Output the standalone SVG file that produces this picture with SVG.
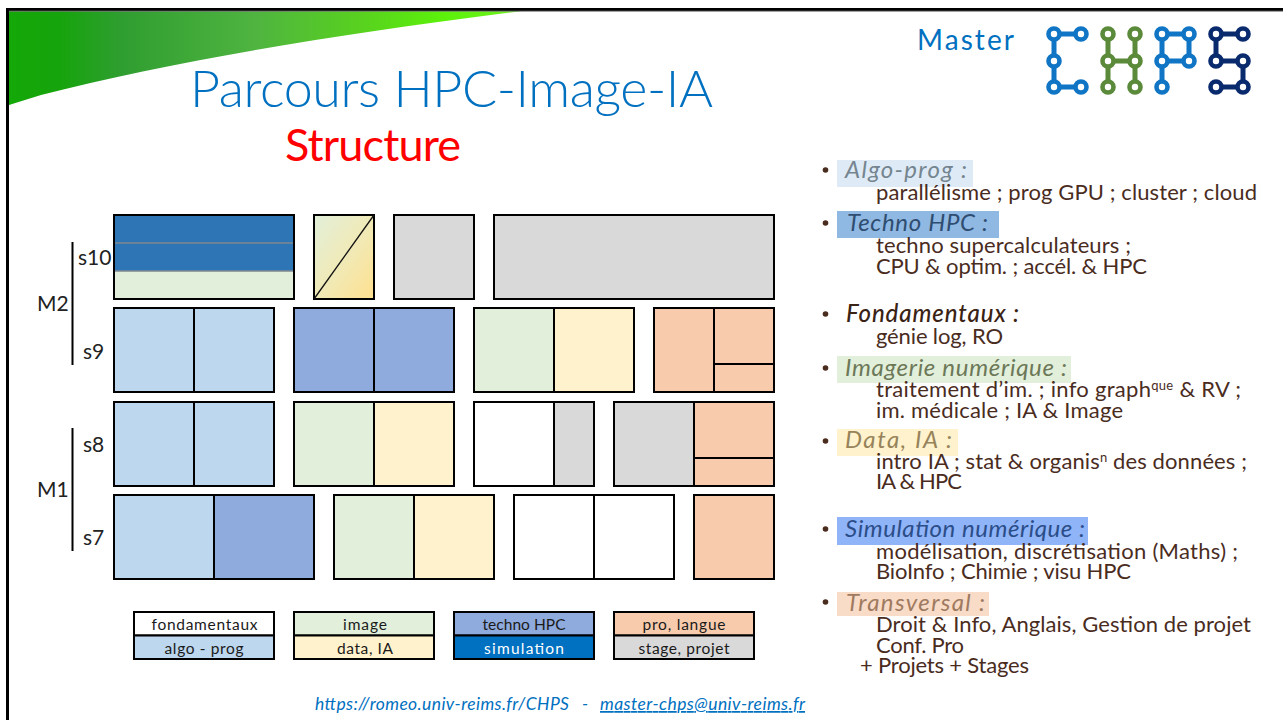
<svg xmlns="http://www.w3.org/2000/svg" width="1283" height="720" viewBox="0 0 1283 720">
<style>
.b{stroke:#000;stroke-width:2}
.l{stroke:#000;stroke-width:2;fill:none}
.lb{fill:#bdd7ee}.tc{fill:#8faadc}.gr{fill:#e2efda}.ye{fill:#fff2cc}.or{fill:#f8cbad}.gy{fill:#d9d9d9}.wh{fill:#fff}.si{fill:#0070c0}
text{font-family:"Lato","Liberation Sans",sans-serif}
.sem{font-size:21px;fill:#222}
.leg{font-size:15.500px;fill:#1a1a1a;text-anchor:middle}
.body{font-size:22px;fill:#4a2c1e;transform:translateY(.8px)}
.hd{font-size:24px;font-style:italic;font-weight:400}
.bu{fill:#4a2c1e}
.foot{font-size:17.500px;font-style:italic;fill:#0070c0}
.node{fill:#fff;stroke-width:4.600}
.wire{fill:none;stroke-width:5}
</style>
<defs>
<linearGradient id="sw" x1="9" y1="0" x2="522" y2="0" gradientUnits="userSpaceOnUse">
<stop offset="0" stop-color="#14a808"/><stop offset=".1" stop-color="#16a40c"/><stop offset=".22" stop-color="#2f9e30"/><stop offset=".48" stop-color="#4fb440"/><stop offset=".68" stop-color="#58d020"/><stop offset=".85" stop-color="#5cf20a"/><stop offset="1" stop-color="#70f020"/>
</linearGradient>
<linearGradient id="dg" x1="0" y1="0" x2="1" y2="1">
<stop offset="0" stop-color="#e2efda"/><stop offset=".5" stop-color="#f0eab8"/><stop offset="1" stop-color="#ffe08f"/>
</linearGradient>
</defs>
<rect width="1283" height="720" fill="#fff"/>
<g id="slide-frame">
<path d="M9 11H522C330 35 170 62 41 95L9 105Z" fill="url(#sw)"/>
<path d="M7.500 720V9.500H1283" fill="none" stroke="#000" stroke-width="3"/>
<path d="M9 11.200H1283" stroke="#777" stroke-width="1"/>
</g>
<g id="title">
<text x="190" y="107" font-size="52" font-weight="300" fill="#0070c0" textLength="523">Parcours HPC-Image-IA</text>
<text x="285" y="161" font-size="45" fill="#ff0000" textLength="176">Structure</text>
<text x="917" y="50" font-size="28" fill="#0070c0" textLength="97">Master</text>
</g>
<g id="logo">
<g stroke="#0f75c4"><path class="wire" d="M1081 34H1054V87H1081"/>
<circle class="node" cx="1054" cy="34" r="5.500"/><circle class="node" cx="1081" cy="34" r="5.500"/><circle class="node" cx="1054" cy="61" r="5.500"/><circle class="node" cx="1054" cy="87" r="5.500"/><circle class="node" cx="1081" cy="87" r="5.500"/></g>
<g stroke="#5a8a3a"><path class="wire" d="M1108 34V87M1135 34V87M1108 61H1135"/>
<circle class="node" cx="1108" cy="34" r="5.500"/><circle class="node" cx="1135" cy="34" r="5.500"/><circle class="node" cx="1108" cy="61" r="5.500"/><circle class="node" cx="1135" cy="61" r="5.500"/><circle class="node" cx="1108" cy="87" r="5.500"/><circle class="node" cx="1135" cy="87" r="5.500"/></g>
<g stroke="#0f75c4"><path class="wire" d="M1162 87V34H1189V61H1162"/>
<circle class="node" cx="1162" cy="34" r="5.500"/><circle class="node" cx="1189" cy="34" r="5.500"/><circle class="node" cx="1162" cy="61" r="5.500"/><circle class="node" cx="1189" cy="61" r="5.500"/><circle class="node" cx="1162" cy="87" r="5.500"/></g>
<g stroke="#0a2a6e"><path class="wire" d="M1243 34H1216V61H1243V87H1216"/>
<circle class="node" cx="1216" cy="34" r="5.500"/><circle class="node" cx="1243" cy="34" r="5.500"/><circle class="node" cx="1216" cy="61" r="5.500"/><circle class="node" cx="1243" cy="61" r="5.500"/><circle class="node" cx="1216" cy="87" r="5.500"/><circle class="node" cx="1243" cy="87" r="5.500"/></g>
</g>
<g id="semesters">
<path d="M72.500 242V365M72.500 428V551" stroke="#000" stroke-width="2" fill="none"/>
<text class="sem" x="78" y="265">s10</text><text class="sem" x="83" y="359">s9</text>
<text class="sem" x="83" y="452">s8</text><text class="sem" x="83" y="545">s7</text>
<text class="sem" x="37" y="311">M2</text><text class="sem" x="37" y="497">M1</text>
</g>
<g id="s10">
<rect x="114" y="215" width="180" height="84" fill="#2e75b6"/>
<rect x="114" y="271" width="180" height="28" class="gr"/>
<path d="M115 243H293M115 271H293" stroke="#808890" stroke-width="1.500" fill="none"/>
<rect x="114" y="215" width="180" height="84" class="l"/>
<rect x="314" y="215" width="60" height="84" fill="url(#dg)" class="b"/>
<path d="M314 299L374 215" stroke="#111" stroke-width="1.300"/>
<rect x="394" y="215" width="80" height="84" class="b gy"/>
<rect x="494" y="215" width="280" height="84" class="b gy"/>
</g>
<g id="s9">
<rect x="114" y="308" width="80" height="84" class="b lb"/><rect x="194" y="308" width="80" height="84" class="b lb"/>
<rect x="294" y="308" width="80" height="84" class="b tc"/><rect x="374" y="308" width="80" height="84" class="b tc"/>
<rect x="474" y="308" width="80" height="84" class="b gr"/><rect x="554" y="308" width="80" height="84" class="b ye"/>
<rect x="654" y="308" width="60" height="84" class="b or"/><rect x="714" y="308" width="60" height="56" class="b or"/><rect x="714" y="364" width="60" height="28" class="b or"/>
</g>
<g id="s8">
<rect x="114" y="402" width="80" height="84" class="b lb"/><rect x="194" y="402" width="80" height="84" class="b lb"/>
<rect x="294" y="402" width="80" height="84" class="b gr"/><rect x="374" y="402" width="80" height="84" class="b ye"/>
<rect x="474" y="402" width="80" height="84" class="b wh"/><rect x="554" y="402" width="40" height="84" class="b gy"/>
<rect x="614" y="402" width="80" height="84" class="b gy"/><rect x="694" y="402" width="80" height="56" class="b or"/><rect x="694" y="458" width="80" height="28" class="b or"/>
</g>
<g id="s7">
<rect x="114" y="495" width="100" height="84" class="b lb"/><rect x="214" y="495" width="100" height="84" class="b tc"/>
<rect x="334" y="495" width="80" height="84" class="b gr"/><rect x="414" y="495" width="80" height="84" class="b ye"/>
<rect x="514" y="495" width="80" height="84" class="b wh"/><rect x="594" y="495" width="80" height="84" class="b wh"/>
<rect x="694" y="495" width="80" height="84" class="b or"/>
</g>
<g id="legend">
<rect x="134" y="612" width="140" height="23.500" class="b wh"/><rect x="134" y="635.500" width="140" height="23.500" class="b lb"/>
<rect x="294" y="612" width="140" height="23.500" class="b gr"/><rect x="294" y="635.500" width="140" height="23.500" class="b ye"/>
<rect x="454" y="612" width="140" height="23.500" class="b tc"/><rect x="454" y="635.500" width="140" height="23.500" class="b si"/>
<rect x="614" y="612" width="140" height="23.500" class="b or"/><rect x="614" y="635.500" width="140" height="23.500" class="b gy"/>
<text class="leg" x="204.500" y="630" textLength="106">fondamentaux</text><text class="leg" x="204" y="654" textLength="79">algo - prog</text>
<text class="leg" x="365" y="630" textLength="44">image</text><text class="leg" x="365" y="654" textLength="56">data, IA</text>
<text class="leg" x="524" y="630" textLength="83">techno HPC</text><text class="leg" x="524" y="654" textLength="80" style="fill:#fff">simulation</text>
<text class="leg" x="684" y="630" textLength="83">pro, langue</text><text class="leg" x="684" y="654" textLength="91">stage, projet</text>
</g>
<g id="list">
<rect x="837" y="160" width="136" height="27" fill="#deebf7"/>
<rect x="837" y="211" width="162" height="27" fill="#8fb8e3"/>
<rect x="837" y="356" width="234" height="27" fill="#e2efda"/>
<rect x="837" y="429" width="121" height="27" fill="#fff2cc"/>
<rect x="837" y="517" width="251" height="28" fill="#8fb4f8"/>
<rect x="837" y="592" width="152" height="24" fill="#f8dcc8"/>
<g class="bu"><circle cx="825.500" cy="170" r="2.800"/><circle cx="825.500" cy="223" r="2.800"/><circle cx="825.500" cy="314" r="2.800"/><circle cx="825.500" cy="368" r="2.800"/><circle cx="825.500" cy="441" r="2.800"/><circle cx="825.500" cy="529" r="2.800"/><circle cx="825.500" cy="602" r="2.800"/></g>
<text class="hd" x="845" y="178" fill="#75858f" textLength="122">Algo-prog :</text>
<text class="body" x="876" y="199" textLength="381">parallélisme ; prog GPU ; cluster ; cloud</text>
<text class="hd" x="847" y="231" fill="#2f4d70" textLength="141">Techno HPC :</text>
<text class="body" x="876" y="252" textLength="255">techno supercalculateurs ;</text>
<text class="body" x="876" y="273" textLength="271">CPU &amp; optim. ; accél. &amp; HPC</text>
<text class="hd" x="846" y="322" fill="#3a2214" style="font-weight:500" textLength="173">Fondamentaux :</text>
<text class="body" x="876" y="343" textLength="127">génie log, RO</text>
<text class="hd" x="845" y="376" fill="#6c7858" textLength="222">Imagerie numérique :</text>
<text class="body" x="876" y="396" textLength="365">traitement d’im. ; info graph<tspan font-size="13" dy="-7">que</tspan><tspan dy="7"> &amp; RV ;</tspan></text>
<text class="body" x="876" y="417" textLength="247">im. médicale ; IA &amp; Image</text>
<text class="hd" x="845" y="448" fill="#96835a" textLength="107">Data, IA :</text>
<text class="body" x="876" y="468" textLength="371">intro IA ; stat &amp; organis<tspan font-size="13" dy="-7">n</tspan><tspan dy="7"> des données ;</tspan></text>
<text class="body" x="876" y="488" textLength="86">IA &amp; HPC</text>
<text class="hd" x="845" y="537" fill="#2b4d88" textLength="240">Simulation numérique :</text>
<text class="body" x="876" y="558" textLength="362">modélisation, discrétisation (Maths) ;</text>
<text class="body" x="876" y="578" textLength="255">BioInfo ; Chimie ; visu HPC</text>
<text class="hd" x="846" y="611" fill="#9f7a60" textLength="139">Transversal :</text>
<text class="body" x="876" y="631" textLength="375">Droit &amp; Info, Anglais, Gestion de projet</text>
<text class="body" x="876" y="652" textLength="88">Conf. Pro</text>
<text class="body" x="860" y="672" textLength="169">+ Projets + Stages</text>
</g>
<g id="footer">
<text class="foot" x="315" y="710" textLength="254">https://romeo.univ-reims.fr/CHPS</text>
<text class="foot" x="582" y="710">-</text>
<text class="foot" x="600" y="710" textLength="205" text-decoration="underline">master-chps@univ-reims.fr</text>
</g>
</svg>
